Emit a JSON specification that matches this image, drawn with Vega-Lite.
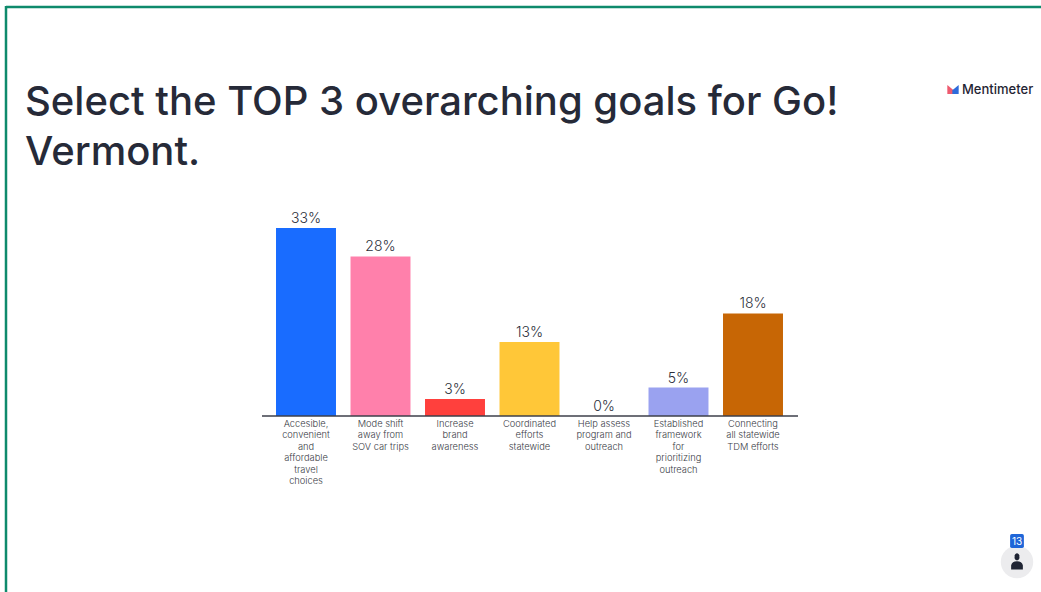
{
  "$schema": "https://vega.github.io/schema/vega-lite/v6.json",
  "width": 1041,
  "height": 592,
  "autosize": {"type": "fit", "contains": "padding"},
  "padding": 0,
  "background": "#ffffff",
  "config": {"view": {"stroke": null}, "font": "Inter"},
  "layer": [
    {
      "mark": {"type": "rule", "color": "#0e8a6c", "strokeWidth": 2.5},
      "data": {"values": [{"edge": "top"}]},
      "encoding": {"x": {"value": 6}, "x2": {"value": 1041}, "y": {"value": 7}}
    },
    {
      "mark": {"type": "rule", "color": "#0e8a6c", "strokeWidth": 2.5},
      "data": {"values": [{"edge": "left"}]},
      "encoding": {"x": {"value": 6}, "y": {"value": 6}, "y2": {"value": 592}}
    },
    {
      "mark": {"type": "text", "align": "left", "baseline": "alphabetic", "fontSize": 40, "fontWeight": 500, "lineHeight": 50, "color": "#262a38", "text": ["Select the TOP 3 overarching goals for Go!", "Vermont."], "limit": 0},
      "data": {"values": [{"block": "heading"}]},
      "encoding": {"x": {"value": 25}, "y": {"value": 115}}
    },
    {
      "data": {"name": "goals", "values": [
        {"goal": "Accesible,\nconvenient\nand\naffordable\ntravel\nchoices", "share": 33, "label": "33%"},
        {"goal": "Mode shift\naway from\nSOV car trips", "share": 28, "label": "28%"},
        {"goal": "Increase\nbrand\nawareness", "share": 3, "label": "3%"},
        {"goal": "Coordinated\nefforts\nstatewide", "share": 13, "label": "13%"},
        {"goal": "Help assess\nprogram and\noutreach", "share": 0, "label": "0%"},
        {"goal": "Established\nframework\nfor\nprioritizing\noutreach", "share": 5, "label": "5%"},
        {"goal": "Connecting\nall statewide\nTDM efforts", "share": 18, "label": "18%"}
      ]},
      "encoding": {
        "x": {
          "field": "goal",
          "type": "nominal",
          "sort": null,
          "scale": {"range": [268.75, 790.25], "paddingInner": 0.195, "paddingOuter": 0.0975},
          "axis": {
            "orient": "bottom",
            "offset": -176,
            "title": null,
            "domain": false,
            "ticks": false,
            "labelAngle": 0,
            "labelPadding": 5,
            "labelFontSize": 9.3,
            "labelFontWeight": 300,
            "labelLineHeight": 11.5,
            "labelColor": "#3a3d47",
            "labelBaseline": "top",
            "labelExpr": "split(datum.label, '\\n')"
          }
        },
        "y": {
          "field": "share",
          "type": "quantitative",
          "scale": {"domain": [0, 33], "range": [416, 228], "nice": false, "zero": true},
          "axis": null
        }
      },
      "layer": [
        {
          "mark": {"type": "bar"},
          "encoding": {
            "color": {
              "field": "goal",
              "type": "nominal",
              "sort": null,
              "legend": null,
              "scale": {"range": ["#196cff", "#ff80ab", "#ff403d", "#ffc738", "#c9c9c9", "#9aa2f0", "#c76605"]}
            }
          }
        },
        {
          "mark": {"type": "text", "baseline": "alphabetic", "dy": -5, "fontSize": 14, "fontWeight": 300, "color": "#2c2f3a"},
          "encoding": {"text": {"field": "label"}}
        }
      ]
    },
    {
      "mark": {"type": "rule", "color": "#3c3f4a", "strokeWidth": 1.6},
      "data": {"values": [{"line": "baseline"}]},
      "encoding": {"x": {"value": 262}, "x2": {"value": 798}, "y": {"value": 416}}
    },
    {
      "mark": {"type": "point", "filled": true, "opacity": 1, "color": "#ee5a6f", "size": 40, "shape": "M-1 1.4L-1 -1.4L1 0.2L1 1.4Z"},
      "data": {"values": [{"part": "logo left"}]},
      "encoding": {"x": {"value": 950.5}, "y": {"value": 89.5}}
    },
    {
      "mark": {"type": "point", "filled": true, "opacity": 1, "color": "#2d6bdb", "size": 40, "shape": "M-1 0.2L1 -1.4L1 1.4L-1 1.4Z"},
      "data": {"values": [{"part": "logo right"}]},
      "encoding": {"x": {"value": 955.5}, "y": {"value": 89.5}}
    },
    {
      "mark": {"type": "text", "align": "left", "baseline": "middle", "fontSize": 13, "fontWeight": 500, "color": "#1f2433", "text": "Mentimeter"},
      "data": {"values": [{"block": "brand"}]},
      "encoding": {"x": {"value": 962}, "y": {"value": 89.5}}
    },
    {
      "mark": {"type": "point", "filled": true, "opacity": 1, "color": "#ececee", "size": 1050, "shape": "circle"},
      "data": {"values": [{"part": "badge"}]},
      "encoding": {"x": {"value": 1017}, "y": {"value": 562}}
    },
    {
      "mark": {"type": "point", "filled": true, "opacity": 1, "color": "#1f2433", "size": 170, "shape": "M-0.35 -0.95A0.38 0.38 0 1 1 0.35 -0.95A0.38 0.38 0 1 1 -0.35 -0.95ZM-0.9 1L-0.9 0.35Q-0.75 -0.25 0 -0.25Q0.75 -0.25 0.9 0.35L0.9 1Z"},
      "data": {"values": [{"part": "person"}]},
      "encoding": {"x": {"value": 1017}, "y": {"value": 563}}
    },
    {
      "mark": {"type": "point", "filled": true, "opacity": 1, "color": "#1f66d8", "size": 190, "shape": "M-0.75 -1L0.75 -1Q1 -1 1 -0.75L1 0.75Q1 1 0.75 1L-0.75 1Q-1 1 -1 0.75L-1 -0.75Q-1 -1 -0.75 -1Z"},
      "data": {"values": [{"part": "count badge"}]},
      "encoding": {"x": {"value": 1017}, "y": {"value": 541}}
    },
    {
      "mark": {"type": "text", "align": "center", "baseline": "middle", "fontSize": 10, "color": "#ffffff", "text": "13"},
      "data": {"values": [{"part": "count"}]},
      "encoding": {"x": {"value": 1017}, "y": {"value": 541.5}}
    }
  ]
}
